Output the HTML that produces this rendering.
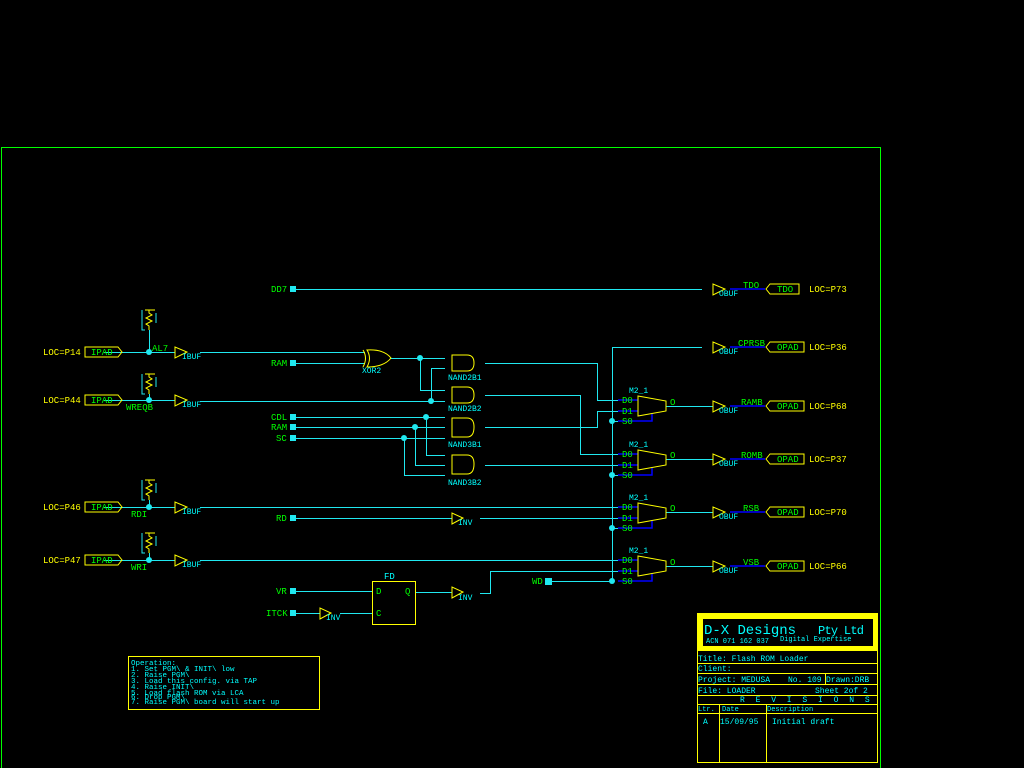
<!DOCTYPE html>
<html><head><meta charset="utf-8"><style>
html,body{margin:0;padding:0;background:#000;}
svg{display:block;}
text{font-family:"Liberation Mono",monospace;font-size:9px;}
.g{fill:#00ff00}.y{fill:#ffff00}.c{fill:#00ffff}
.w line,.w polyline{shape-rendering:crispEdges}
</style></head><body>
<svg width="1024" height="768" viewBox="0 0 1024 768" xmlns="http://www.w3.org/2000/svg">
<rect width="1024" height="768" fill="#000"/>
<polyline points="1.5,768 1.5,147.5 880.5,147.5 880.5,768" fill="none" stroke="#00ff00" stroke-width="1" shape-rendering="crispEdges"/>

<g class="w" stroke="#20e8f0" stroke-width="1" fill="none">
<line x1="293" y1="289.5" x2="702" y2="289.5"/>
<line x1="104" y1="352.5" x2="175" y2="352.5"/>
<line x1="200" y1="352.5" x2="365" y2="352.5"/>
<line x1="293" y1="363.5" x2="365" y2="363.5"/>
<line x1="390" y1="358.5" x2="445" y2="358.5"/>
<polyline points="420.5,358.5 420.5,390.5 445,390.5"/>
<polyline points="431.5,401 431.5,368.5 445,368.5"/>
<line x1="104" y1="400.5" x2="175" y2="400.5"/>
<line x1="200" y1="401.5" x2="445" y2="401.5"/>
<line x1="293" y1="417.5" x2="445" y2="417.5"/>
<line x1="293" y1="427.5" x2="445" y2="427.5"/>
<line x1="293" y1="438.5" x2="445" y2="438.5"/>
<polyline points="426.5,417 426.5,455.5 445,455.5"/>
<polyline points="415.5,427 415.5,465.5 445,465.5"/>
<polyline points="404.5,438 404.5,475.5 445,475.5"/>
<polyline points="485,363.5 597.5,363.5 597.5,400.5 618,400.5"/>
<polyline points="485,395.5 580.5,395.5 580.5,454.5 618,454.5"/>
<polyline points="485,427.5 597.5,427.5 597.5,411.5 618,411.5"/>
<line x1="485" y1="465.5" x2="618" y2="465.5"/>
<line x1="104" y1="507.5" x2="175" y2="507.5"/>
<line x1="200" y1="507.5" x2="618" y2="507.5"/>
<line x1="293" y1="518.5" x2="452" y2="518.5"/>
<line x1="480" y1="518.5" x2="618" y2="518.5"/>
<line x1="104" y1="560.5" x2="175" y2="560.5"/>
<line x1="200" y1="560.5" x2="618" y2="560.5"/>
<line x1="548" y1="581.5" x2="612" y2="581.5"/>
<polyline points="480,593.5 490.5,593.5 490.5,571.5 618,571.5"/>
<polyline points="702,347.5 612.5,347.5 612.5,581"/>
<line x1="612" y1="421.5" x2="618" y2="421.5"/>
<line x1="612" y1="475.5" x2="618" y2="475.5"/>
<line x1="612" y1="528.5" x2="618" y2="528.5"/>
<line x1="666" y1="406.5" x2="713" y2="406.5"/>
<line x1="666" y1="459.5" x2="713" y2="459.5"/>
<line x1="666" y1="512.5" x2="713" y2="512.5"/>
<line x1="666" y1="566.5" x2="713" y2="566.5"/>
<line x1="293" y1="591.5" x2="372" y2="591.5"/>
<line x1="293" y1="613.5" x2="320" y2="613.5"/>
<line x1="340" y1="613.5" x2="372" y2="613.5"/>
<line x1="415" y1="592.5" x2="452" y2="592.5"/>
<line x1="149.5" y1="330" x2="149.5" y2="352"/>
<line x1="149.5" y1="394" x2="149.5" y2="400"/>
<line x1="149.5" y1="500" x2="149.5" y2="507"/>
<line x1="149.5" y1="553" x2="149.5" y2="560"/>
</g>

<g stroke="#0000ff" stroke-width="1.5" fill="none">
<line x1="618" y1="400" x2="638" y2="400"/><line x1="618" y1="411" x2="638" y2="411"/><polyline points="618,421 652,421 652,413"/>
<line x1="618" y1="454" x2="638" y2="454"/><line x1="618" y1="465" x2="638" y2="465"/><polyline points="618,475 652,475 652,467"/>
<line x1="618" y1="507" x2="638" y2="507"/><line x1="618" y1="518" x2="638" y2="518"/><polyline points="618,528 652,528 652,520"/>
<line x1="618" y1="560" x2="638" y2="560"/><line x1="618" y1="571" x2="638" y2="571"/><polyline points="618,581 652,581 652,573"/>
<line x1="730" y1="289" x2="765" y2="289"/><line x1="730" y1="347" x2="765" y2="347"/><line x1="730" y1="406" x2="765" y2="406"/>
<line x1="730" y1="459" x2="765" y2="459"/><line x1="730" y1="512" x2="765" y2="512"/><line x1="730" y1="566" x2="765" y2="566"/>
</g>

<g fill="#20e8f0">
<circle cx="149" cy="352" r="3"/><circle cx="149" cy="400" r="3"/><circle cx="149" cy="507" r="3"/><circle cx="149" cy="560" r="3"/>
<circle cx="420" cy="358" r="3"/><circle cx="431" cy="401" r="3"/><circle cx="426" cy="417" r="3"/><circle cx="415" cy="427" r="3"/><circle cx="404" cy="438" r="3"/>
<circle cx="612" cy="421" r="3"/><circle cx="612" cy="475" r="3"/><circle cx="612" cy="528" r="3"/><circle cx="612" cy="581" r="3"/>
<rect x="290" y="286" width="6" height="6"/><rect x="290" y="360" width="6" height="6"/>
<rect x="290" y="414" width="6" height="6"/><rect x="290" y="424" width="6" height="6"/><rect x="290" y="435" width="6" height="6"/>
<rect x="290" y="515" width="6" height="6"/><rect x="290" y="588" width="6" height="6"/><rect x="290" y="610" width="6" height="6"/>
<rect x="545" y="578" width="7" height="7"/>
</g>

<g fill="none" stroke-width="1">
<g><polyline points="142,310 142,330 145,330" stroke="#20e8f0"/><polyline points="145,310 155,310" stroke="#ffff00"/><polyline points="149,310 149,313 152,315 146,318 152,321 146,324 149,326 149,330" stroke="#ffff00"/><line x1="156" y1="313" x2="156" y2="323" stroke="#20e8f0"/></g>
<g transform="translate(0,48)"><polyline points="142,326 142,346 145,346" stroke="#20e8f0"/><polyline points="145,326 155,326" stroke="#ffff00"/><polyline points="149,326 149,329 152,331 146,334 152,337 146,340 149,342 149,346" stroke="#ffff00"/><line x1="156" y1="329" x2="156" y2="339" stroke="#20e8f0"/></g>
<g transform="translate(0,154)"><polyline points="142,326 142,346 145,346" stroke="#20e8f0"/><polyline points="145,326 155,326" stroke="#ffff00"/><polyline points="149,326 149,329 152,331 146,334 152,337 146,340 149,342 149,346" stroke="#ffff00"/><line x1="156" y1="329" x2="156" y2="339" stroke="#20e8f0"/></g>
<g transform="translate(0,207)"><polyline points="142,326 142,346 145,346" stroke="#20e8f0"/><polyline points="145,326 155,326" stroke="#ffff00"/><polyline points="149,326 149,329 152,331 146,334 152,337 146,340 149,342 149,346" stroke="#ffff00"/><line x1="156" y1="329" x2="156" y2="339" stroke="#20e8f0"/></g>
</g>

<g fill="none" stroke="#ffff00" stroke-width="1">
<polygon points="85,347 118,347 122,352 118,357 85,357"/>
<polygon points="85,395 118,395 122,400 118,405 85,405"/>
<polygon points="85,502 118,502 122,507 118,512 85,512"/>
<polygon points="85,555 118,555 122,560 118,565 85,565"/>
<polygon points="175,347 175,358 187,352"/><polygon points="175,395 175,406 187,400"/>
<polygon points="175,502 175,513 187,507"/><polygon points="175,555 175,566 187,560"/>
<polygon points="713,284 713,295 725,289"/><polygon points="713,342 713,353 725,347"/><polygon points="713,401 713,412 725,406"/>
<polygon points="713,454 713,465 725,459"/><polygon points="713,507 713,518 725,512"/><polygon points="713,561 713,572 725,566"/>
<polygon points="770,284 799,284 799,294 770,294 766,289"/><polygon points="770,342 804,342 804,352 770,352 766,347"/>
<polygon points="770,401 804,401 804,411 770,411 766,406"/><polygon points="770,454 804,454 804,464 770,464 766,459"/>
<polygon points="770,507 804,507 804,517 770,517 766,512"/><polygon points="770,561 804,561 804,571 770,571 766,566"/>
<polygon points="452,513 452,524 463,518"/><polygon points="452,587 452,598 463,592"/><polygon points="320,608 320,619 331,613"/>
<path d="M367,350 Q384,349 391,358 Q384,367 367,367 Q372,358 367,350Z"/>
<path d="M363,350 Q368,358 363,367"/>
<path d="M452,355 H467 Q474,355 474,363 Q474,371 467,371 H452Z"/>
<path d="M452,387 H467 Q474,387 474,395 Q474,403 467,403 H452Z"/>
<path d="M452,418 H467 Q474,418 474,427 Q474,437 467,437 H452Z"/>
<path d="M452,455 H467 Q474,455 474,464 Q474,474 467,474 H452Z"/>
<polygon points="638,396 666,401 666,411 638,416"/>
<polygon points="638,450 666,455 666,465 638,470"/>
<polygon points="638,503 666,508 666,518 638,523"/>
<polygon points="638,556 666,561 666,571 638,576"/>
<rect x="372.5" y="581.5" width="43" height="43"/>
<rect x="128.5" y="656.5" width="191" height="53"/>
</g>

<rect x="697" y="613" width="181" height="38" fill="#ffff00"/>
<rect x="703" y="619" width="170" height="27" fill="#000"/>
<g fill="none" stroke="#ffff00" stroke-width="1" shape-rendering="crispEdges">
<rect x="697.5" y="613.5" width="180" height="149"/>
<line x1="697" y1="663.5" x2="878" y2="663.5"/><line x1="697" y1="673.5" x2="878" y2="673.5"/>
<line x1="697" y1="684.5" x2="878" y2="684.5"/><line x1="697" y1="695.5" x2="878" y2="695.5"/>
<line x1="697" y1="704.5" x2="878" y2="704.5"/><line x1="697" y1="713.5" x2="878" y2="713.5"/>
<line x1="719.5" y1="704" x2="719.5" y2="763"/><line x1="766.5" y1="704" x2="766.5" y2="763"/>
<line x1="825.5" y1="674" x2="825.5" y2="684"/>
</g>
<g class="c">
<text x="704" y="634" style="font-size:14px" textLength="92">D-X Designs</text>
<text x="818" y="634" style="font-size:12px" textLength="46">Pty Ltd</text>
<text x="706" y="643" style="font-size:7px">ACN 071 162 037</text>
<text x="780" y="641" style="font-size:7px">Digital Expertise</text>
<text x="698" y="661" style="font-size:8px">Title:  Flash ROM Loader</text>
<text x="698" y="671" style="font-size:8px">Client:</text>
<text x="698" y="682" style="font-size:8px">Project:  MEDUSA</text>
<text x="788" y="682" style="font-size:8px">No. 109</text>
<text x="826" y="682" style="font-size:8px">Drawn:DRB</text>
<text x="698" y="693" style="font-size:8px">File:  LOADER</text>
<text x="815" y="693" style="font-size:8px">Sheet 2of  2</text>
<text x="740" y="702" style="font-size:8px;letter-spacing:3px">R E V I S I O N S</text>
<text x="698" y="711" style="font-size:7px">Ltr.</text>
<text x="722" y="711" style="font-size:7px">Date</text>
<text x="767" y="711" style="font-size:7px">Description</text>
<text x="703" y="724" style="font-size:8px">A</text>
<text x="720" y="724" style="font-size:8px">15/09/95</text>
<text x="772" y="724" style="font-size:8px">Initial draft</text>
</g>

<g class="c">
<text x="131" y="665" style="font-size:7.5px">Operation:</text>
<text x="131" y="671" style="font-size:7.5px">1. Set PGM\ &amp; INIT\ low</text>
<text x="131" y="677" style="font-size:7.5px">2. Raise PGM\</text>
<text x="131" y="683" style="font-size:7.5px">3. Load this config. via TAP</text>
<text x="131" y="689" style="font-size:7.5px">4. Raise INIT\</text>
<text x="131" y="695" style="font-size:7.5px">5. Load flash ROM via LCA</text>
<text x="131" y="699" style="font-size:7.5px">6. Drop PGM\</text>
<text x="131" y="704" style="font-size:7.5px">7. Raise PGM\ board will start up</text>
</g>

<g class="y">
<text x="43" y="355">LOC=P14</text><text x="43" y="403">LOC=P44</text>
<text x="43" y="510">LOC=P46</text><text x="43" y="563">LOC=P47</text>
<text x="809" y="292">LOC=P73</text><text x="809" y="350">LOC=P36</text><text x="809" y="409">LOC=P68</text>
<text x="809" y="462">LOC=P37</text><text x="809" y="515">LOC=P70</text><text x="809" y="569">LOC=P66</text>
</g>
<g class="g">
<text x="91" y="355">IPAD</text><text x="91" y="403">IPAD</text><text x="91" y="510">IPAD</text><text x="91" y="563">IPAD</text>
<text x="777" y="292">TDO</text><text x="777" y="350">OPAD</text><text x="777" y="409">OPAD</text>
<text x="777" y="462">OPAD</text><text x="777" y="515">OPAD</text><text x="777" y="569">OPAD</text>
<text x="743" y="288">TDO</text><text x="738" y="346">CPRSB</text><text x="741" y="405">RAMB</text>
<text x="741" y="458">ROMB</text><text x="743" y="511">RSB</text><text x="743" y="565">VSB</text>
<text x="271" y="292">DD7</text><text x="271" y="366">RAM</text><text x="271" y="420">CDL</text>
<text x="271" y="430">RAM</text><text x="276" y="441">SC</text><text x="276" y="521">RD</text>
<text x="276" y="594">VR</text><text x="266" y="616">ITCK</text><text x="532" y="584">WD</text>
<text x="152" y="351">AL7</text><text x="126" y="410">WREQB</text><text x="131" y="517">RDI</text><text x="131" y="570">WRI</text>
<text x="376" y="594">D</text><text x="405" y="594">Q</text><text x="376" y="616">C</text>
<g style="font-size:8px">
<text x="622" y="403">D0</text><text x="622" y="414">D1</text><text x="622" y="424">S0</text>
<text x="622" y="457">D0</text><text x="622" y="468">D1</text><text x="622" y="478">S0</text>
<text x="622" y="510">D0</text><text x="622" y="521">D1</text><text x="622" y="531">S0</text>
<text x="622" y="563">D0</text><text x="622" y="574">D1</text><text x="622" y="584">S0</text>
</g>
<text x="670" y="405">O</text><text x="670" y="458">O</text><text x="670" y="511">O</text><text x="670" y="565">O</text>
</g>
<g class="c">
<text x="182" y="359" style="font-size:8px">IBUF</text><text x="182" y="407" style="font-size:8px">IBUF</text>
<text x="182" y="514" style="font-size:8px">IBUF</text><text x="182" y="567" style="font-size:8px">IBUF</text>
<text x="719" y="296" style="font-size:8px">OBUF</text><text x="719" y="354" style="font-size:8px">OBUF</text><text x="719" y="413" style="font-size:8px">OBUF</text>
<text x="719" y="466" style="font-size:8px">OBUF</text><text x="719" y="519" style="font-size:8px">OBUF</text><text x="719" y="573" style="font-size:8px">OBUF</text>
<text x="362" y="373" style="font-size:8px">XOR2</text>
<text x="448" y="380" style="font-size:8px">NAND2B1</text><text x="448" y="411" style="font-size:8px">NAND2B2</text>
<text x="448" y="447" style="font-size:8px">NAND3B1</text><text x="448" y="485" style="font-size:8px">NAND3B2</text>
<text x="458" y="525" style="font-size:8px">INV</text><text x="458" y="600" style="font-size:8px">INV</text><text x="326" y="620" style="font-size:8px">INV</text>
<text x="629" y="393" style="font-size:8px">M2_1</text><text x="629" y="447" style="font-size:8px">M2_1</text>
<text x="629" y="500" style="font-size:8px">M2_1</text><text x="629" y="553" style="font-size:8px">M2_1</text>
<text x="384" y="579" style="font-size:9px">FD</text>
</g>
</svg>
</body></html>
